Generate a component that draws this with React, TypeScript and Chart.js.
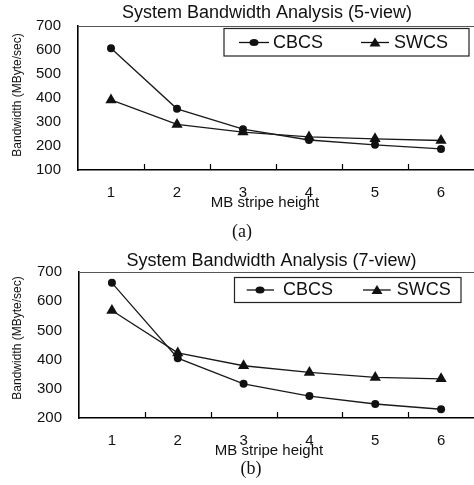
import React, { useEffect, useRef } from "react";
import { Chart, registerables } from "chart.js";

Chart.register(...registerables);

const categories = ["1", "2", "3", "4", "5", "6"];
const cbcs5 = [607, 355, 270, 225, 205, 188];
const swcs5 = [392, 290, 258, 238, 230, 223];
const cbcs7 = [663, 405, 317, 275, 248, 230];
const swcs7 = [568, 423, 379, 356, 339, 334];
const seriesNames = ["CBCS", "SWCS"];

const SANS = "'Liberation Sans', Arial, Helvetica, sans-serif";

type Spec = {
  title: string;
  top: number;
  height: number;
  plot: { left: number; top: number; bottom: number };
  yMin: number;
  yMax: number;
  titlePos: [number, number];
  xTitlePos: [number, number];
  yTitlePos: [number, number];
  legendBox: [number, number, number, number];
  legendItems: { l1: number; l2: number; m: number; tx: number }[];
  legendY: number;
  a: number[];
  b: number[];
  caption: string;
  captionPos: [number, number];
};

const specs: Spec[] = [
  {
    title: "System Bandwidth Analysis (5-view)",
    top: 0,
    height: 240,
    plot: { left: 78, top: 23, bottom: 170 },
    yMin: 100,
    yMax: 700,
    titlePos: [267, 18],
    xTitlePos: [265, 203],
    yTitlePos: [18, 95],
    legendBox: [224, 28.5, 245, 27.5],
    legendItems: [
      { l1: 239, l2: 269, m: 254, tx: 273 },
      { l1: 361, l2: 389, m: 375, tx: 394 },
    ],
    legendY: 42.5,
    a: cbcs5,
    b: swcs5,
    caption: "(a)",
    captionPos: [242, 231],
  },
  {
    title: "System Bandwidth Analysis (7-view)",
    top: 240,
    height: 245,
    plot: { left: 79, top: 32, bottom: 178 },
    yMin: 200,
    yMax: 700,
    titlePos: [271.5, 26],
    xTitlePos: [269, 210.5],
    yTitlePos: [17.5, 98],
    legendBox: [234.5, 37.5, 226.5, 25],
    legendItems: [
      { l1: 246.7, l2: 274, m: 260, tx: 283 },
      { l1: 363, l2: 390.7, m: 377, tx: 396.7 },
    ],
    legendY: 50,
    a: cbcs7,
    b: swcs7,
    caption: "(b)",
    captionPos: [251, 228],
  },
];

function Panel({ spec }: { spec: Spec }) {
  const ref = useRef<HTMLCanvasElement | null>(null);
  useEffect(() => {
    if (!ref.current) return;
    const decor = {
      id: "decor",
      afterDraw(chart: any) {
        const ctx = chart.ctx;
        const ca = chart.chartArea;
        const xs = chart.scales.x;
        ctx.save();
        // top border
        ctx.strokeStyle = "#555";
        ctx.lineWidth = 1;
        ctx.beginPath();
        ctx.moveTo(ca.left, ca.top + 0.5);
        ctx.lineTo(ca.right, ca.top + 0.5);
        ctx.stroke();
        // inward x ticks at category boundaries
        ctx.strokeStyle = "#000";
        ctx.lineWidth = 1.2;
        for (let i = 1; i < categories.length; i++) {
          const x = Math.round((xs.getPixelForTick(i - 1) + xs.getPixelForTick(i)) / 2) + 0.5;
          ctx.beginPath();
          ctx.moveTo(x, ca.bottom);
          ctx.lineTo(x, ca.bottom - 6);
          ctx.stroke();
        }
        // title
        ctx.fillStyle = "#111";
        ctx.font = `18px ${SANS}`;
        ctx.textAlign = "center";
        ctx.textBaseline = "alphabetic";
        ctx.fillText(spec.title, spec.titlePos[0], spec.titlePos[1]);
        // x title
        ctx.font = `15px ${SANS}`;
        ctx.textBaseline = "middle";
        ctx.fillText("MB stripe height", spec.xTitlePos[0], spec.xTitlePos[1]);
        // y title
        ctx.save();
        ctx.translate(spec.yTitlePos[0], spec.yTitlePos[1]);
        ctx.rotate(-Math.PI / 2);
        ctx.font = `12px ${SANS}`;
        ctx.fillText("Bandwidth (MByte/sec)", 0, 0);
        ctx.restore();
        // legend
        const [bx, by, bw, bh] = spec.legendBox;
        ctx.fillStyle = "#fff";
        ctx.fillRect(bx, by, bw, bh);
        ctx.strokeStyle = "#222";
        ctx.lineWidth = 1.2;
        ctx.strokeRect(bx, by, bw, bh);
        spec.legendItems.forEach((it, k) => {
          const y = spec.legendY;
          ctx.strokeStyle = "#111";
          ctx.lineWidth = 1.3;
          ctx.beginPath();
          ctx.moveTo(it.l1, y);
          ctx.lineTo(it.l2, y);
          ctx.stroke();
          ctx.fillStyle = "#111";
          ctx.beginPath();
          if (k === 0) {
            ctx.ellipse(it.m, y, 4.5, 3.5, 0, 0, Math.PI * 2);
          } else {
            ctx.moveTo(it.m - 5.5, y + 4);
            ctx.lineTo(it.m + 5.5, y + 4);
            ctx.lineTo(it.m, y - 5);
            ctx.closePath();
          }
          ctx.fill();
          ctx.font = `18px ${SANS}`;
          ctx.textAlign = "left";
          ctx.textBaseline = "middle";
          ctx.fillText(seriesNames[k], it.tx, y + 0.5);
        });
        ctx.restore();
      },
    };
    const chart = new Chart(ref.current, {
      type: "line",
      data: {
        labels: categories,
        datasets: [
          {
            label: seriesNames[0],
            data: spec.a,
            borderColor: "#1a1a1a",
            backgroundColor: "#111",
            borderWidth: 1.3,
            pointStyle: "circle",
            pointRadius: 4,
            pointBorderWidth: 0,
            tension: 0,
          },
          {
            label: seriesNames[1],
            data: spec.b,
            borderColor: "#1a1a1a",
            backgroundColor: "#111",
            borderWidth: 1.3,
            pointStyle: "triangle",
            pointRadius: 6.5,
            pointBorderWidth: 0,
            tension: 0,
          },
        ],
      },
      options: {
        animation: false,
        responsive: false,
        devicePixelRatio: 1,
        layout: {
          autoPadding: false,
          padding: { top: spec.plot.top, left: 0, right: 0, bottom: 0 },
        },
        plugins: {
          legend: { display: false },
          title: { display: false },
          tooltip: { enabled: false },
        },
        scales: {
          x: {
            type: "category",
            offset: true,
            grid: { display: false, drawTicks: false },
            border: { display: true, color: "#000", width: 1.6 },
            ticks: {
              color: "#111",
              font: { family: SANS, size: 15 },
              padding: 14,
              maxRotation: 0,
            },
            afterFit: (s: any) => {
              s.height = spec.height - spec.plot.bottom;
            },
          },
          y: {
            min: spec.yMin,
            max: spec.yMax,
            grid: { display: false, drawTicks: false },
            border: { display: true, color: "#000", width: 1.6 },
            ticks: {
              stepSize: 100,
              color: "#111",
              font: { family: SANS, size: 15 },
              padding: 17,
            },
            afterFit: (s: any) => {
              s.width = spec.plot.left;
            },
          },
        },
      },
      plugins: [decor],
    } as any);
    return () => chart.destroy();
  }, [spec]);
  return (
    <>
      <canvas
        ref={ref}
        width={474}
        height={spec.height}
        style={{ position: "absolute", left: 0, top: spec.top, width: 474, height: spec.height }}
      />
      <div
        style={{
          position: "absolute",
          left: spec.captionPos[0] - 30,
          top: spec.top + spec.captionPos[1] - 11,
          width: 60,
          height: 22,
          lineHeight: "22px",
          textAlign: "center",
          fontFamily: "'Liberation Serif', 'Times New Roman', serif",
          fontSize: 18,
          color: "#111",
        }}
      >
        {spec.caption}
      </div>
    </>
  );
}

export default function App() {
  return (
    <div
      style={{
        position: "fixed",
        left: 0,
        top: 0,
        width: 474,
        height: 485,
        background: "#fff",
        overflow: "hidden",
      }}
    >
      {specs.map((s) => (
        <Panel key={s.title} spec={s} />
      ))}
    </div>
  );
}
